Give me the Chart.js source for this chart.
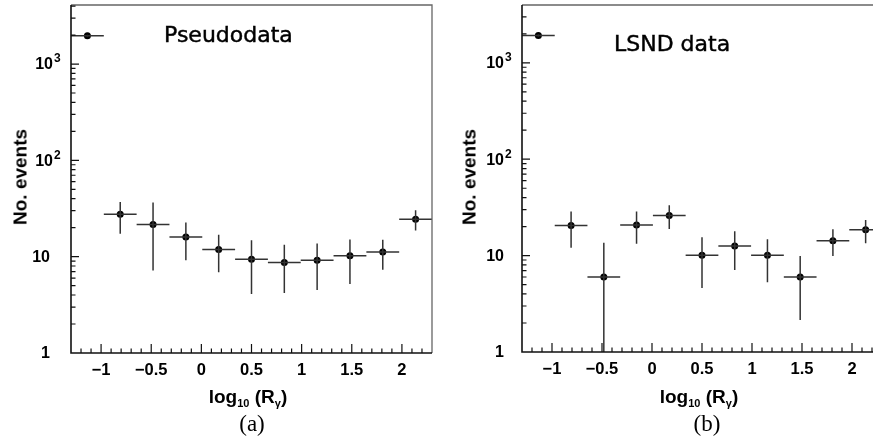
<!DOCTYPE html>
<html><head><meta charset="utf-8">
<script src="https://cdn.jsdelivr.net/npm/chart.js@4/dist/chart.umd.min.js"></script>
<style>
html,body{margin:0;padding:0;width:873px;height:441px;overflow:hidden;background:#fff;position:relative}
canvas{position:absolute;top:0}
.t{position:absolute;white-space:nowrap;color:#000}
.panel{font-family:"DejaVu Sans",sans-serif;font-size:22px;line-height:22px;-webkit-text-stroke:0.45px #000}
.ylab{font-family:"Liberation Sans",Arial,sans-serif;font-weight:bold;font-size:19px;line-height:19px;transform:translate(-50%,-50%) rotate(-90deg)}
.xlab{font-family:"Liberation Sans",Arial,sans-serif;font-weight:bold;font-size:19px;line-height:19px;transform:translateX(-50%)}
.xlab .sb{font-size:11px;position:relative;top:4px}
.cap{font-family:"Liberation Serif","Times New Roman",serif;font-size:23px;line-height:23px;transform:translateX(-50%)}
</style></head><body>
<canvas id="c1" width="436" height="441" style="left:0"></canvas>
<canvas id="c2" width="450" height="441" style="left:436px"></canvas>
<div class="t panel" style="left:164px;top:24px">Pseudodata</div>
<div class="t panel" style="left:614px;top:33px">LSND data</div>
<div class="t ylab" style="left:20px;top:177px">No. events</div>
<div class="t ylab" style="left:469px;top:177px">No. events</div>
<div class="t xlab" style="left:248px;top:387px">log<span class="sb">10</span> (R<span class="sb">γ</span>)</div>
<div class="t xlab" style="left:699px;top:387px">log<span class="sb">10</span> (R<span class="sb">γ</span>)</div>
<div class="t cap" style="left:252px;top:412px">(a)</div>
<div class="t cap" style="left:707px;top:412px">(b)</div>
<script>
// ---- data ----
const binEdges = [-1.3, -0.9727, -0.6455, -0.3182, 0.0091, 0.3364, 0.6636, 0.9909, 1.3182, 1.6455, 1.9727, 2.3];
const binCenters = [-1.1364, -0.8091, -0.4818, -0.1545, 0.1727, 0.5, 0.8273, 1.1545, 1.4818, 1.8091, 2.1364];

const pseudoValues  = [1970, 27.5, 21.6, 16.0, 11.9, 9.4, 8.7, 9.2, 10.2, 11.2, 24.5];
const pseudoErrHigh = [2015, 36.9, 36.6, 22.7, 16.9, 14.8, 13.3, 13.7, 15.1, 15.0, 30.3];
const pseudoErrLow  = [1925, 17.3, 7.2, 9.2, 6.9, 4.1, 4.2, 4.5, 5.2, 7.3, 18.7];

const lsndValues  = [1925, 20.5, 6.0, 20.8, 26.0, 10.1, 12.6, 10.1, 6.0, 14.3, 18.5];
const lsndErrHigh = [1970, 28.6, 13.6, 28.6, 33.3, 15.5, 17.9, 14.8, 9.9, 18.8, 23.4];
const lsndErrLow  = [1880, 12.1, 1.0, 13.3, 18.9, 4.6, 7.1, 5.3, 2.15, 9.9, 13.4];

const xTickValues = [-1, -0.5, 0, 0.5, 1, 1.5, 2];
const xTickLabels = ['\u22121', '\u22120.5', '0', '0.5', '1', '1.5', '2'];
const yTickValues = [1, 10, 100, 1000];
const yTickBase   = ['1', '10', '10', '10'];
const yTickExp    = ['', '', '2', '3'];

// ---- helpers ----
function vSegs(lo, hi) {
  const out = [];
  binCenters.forEach((c, i) => { out.push({x: c, y: lo[i]}, {x: c, y: hi[i]}, {x: c, y: null}); });
  return out;
}
function hSegs(vals) {
  const out = [];
  vals.forEach((v, i) => { out.push({x: binEdges[i], y: v}, {x: binEdges[i + 1], y: v}, {x: binEdges[i + 1], y: null}); });
  return out;
}
function pts(vals) { return binCenters.map((c, i) => ({x: c, y: vals[i]})); }

const framePlugin = {
  id: 'frame',
  afterDraw(chart) {
    const ctx = chart.ctx, a = chart.chartArea, xs = chart.scales.x, ys = chart.scales.y;
    const o = chart.options.plugins.frame;
    ctx.save();
    ctx.strokeStyle = '#666'; ctx.lineWidth = 1.3;
    ctx.beginPath();
    ctx.moveTo(a.left, a.top); ctx.lineTo(a.right, a.top); ctx.lineTo(a.right, a.bottom);
    ctx.stroke();
    ctx.strokeStyle = '#111'; ctx.lineWidth = 1.6;
    ctx.beginPath();
    ctx.moveTo(a.left, a.top); ctx.lineTo(a.left, a.bottom); ctx.lineTo(a.right, a.bottom);
    ctx.stroke();
    ctx.lineWidth = 1.2; ctx.strokeStyle = '#111';
    ctx.beginPath();
    for (let k = -13; k <= 23; k++) {
      const v = k / 10;
      const major = (k % 5 === 0);
      const px = xs.getPixelForValue(v);
      if (px <= a.left + 1 || px >= a.right - 1) continue;
      const len = major ? 9 : 4.5;
      ctx.moveTo(px, a.bottom); ctx.lineTo(px, a.bottom - len);
    }
    for (let d = 1; d <= 1000; d *= 10) {
      for (let m = 1; m <= 9; m++) {
        const v = d * m;
        if (v > ys.max) break;
        const py = ys.getPixelForValue(v);
        if (py >= a.bottom - 1) continue;
        const len = m === 1 ? 8 : 4.5;
        ctx.moveTo(a.left, py); ctx.lineTo(a.left + len, py);
      }
    }
    ctx.stroke();
    ctx.fillStyle = '#000'; ctx.textBaseline = 'middle';
    yTickValues.forEach((v, i) => {
      const py = ys.getPixelForValue(v);
      ctx.font = 'bold 16px "Liberation Sans", Arial, sans-serif';
      ctx.textAlign = 'right';
      if (yTickExp[i]) {
        ctx.fillText(yTickBase[i], a.left - 18, py + 1);
        ctx.font = 'bold 12px "Liberation Sans", Arial, sans-serif';
        ctx.textAlign = 'left';
        ctx.fillText(yTickExp[i], a.left - 17, py - 5);
      } else {
        ctx.fillText(yTickBase[i], a.left - o.plainOff, py + 1);
      }
    });
    ctx.restore();
  }
};

function makeChart(id, vals, lo, hi, cfg) {
  return new Chart(document.getElementById(id), {
    type: 'scatter',
    data: {
      datasets: [
        {data: vSegs(lo, hi), showLine: true, borderColor: '#333', borderWidth: 1.5, pointRadius: 0, spanGaps: false},
        {data: hSegs(vals), showLine: true, borderColor: '#333', borderWidth: 1.5, pointRadius: 0, spanGaps: false},
        {data: pts(vals), showLine: false, pointRadius: 3.5, pointBackgroundColor: '#000', pointBorderColor: '#000', pointBorderWidth: 0}
      ]
    },
    options: {
      responsive: false, animation: false, devicePixelRatio: 1,
      layout: {padding: {top: cfg.top, right: cfg.padRight, left: 0, bottom: 0}},
      plugins: {legend: {display: false}, tooltip: {enabled: false}, frame: {plainOff: cfg.plainOff}},
      scales: {
        x: {
          type: 'linear', min: -1.3, max: 2.3,
          grid: {display: false, drawTicks: false}, border: {display: false},
          afterBuildTicks: s => { s.ticks = xTickValues.map(v => ({value: v})); },
          afterFit: s => { s.height = cfg.xAxisHeight; },
          ticks: {padding: 8, autoSkip: false, maxRotation: 0, color: '#000',
                  font: {family: '"Liberation Sans", Arial, sans-serif', size: 16.5, weight: 'bold'},
                  callback: (v, i) => xTickLabels[i]}
        },
        y: {
          type: 'logarithmic', min: 1, max: cfg.ymax,
          grid: {display: false, drawTicks: false}, border: {display: false},
          afterBuildTicks: s => { s.ticks = yTickValues.map(v => ({value: v})); },
          afterFit: s => { s.width = cfg.yAxisWidth; },
          ticks: {display: false}
        }
      }
    },
    plugins: [framePlugin]
  });
}

makeChart('c1', pseudoValues, pseudoErrLow, pseudoErrHigh,
  {top: 5, padRight: 4, xAxisHeight: 88, yAxisWidth: 71, ymax: 4100, plainOff: 21});
makeChart('c2', lsndValues, lsndErrLow, lsndErrHigh,
  {top: 5, padRight: 3.2, xAxisHeight: 89, yAxisWidth: 86, ymax: 3981, plainOff: 18});
</script>
</body></html>
